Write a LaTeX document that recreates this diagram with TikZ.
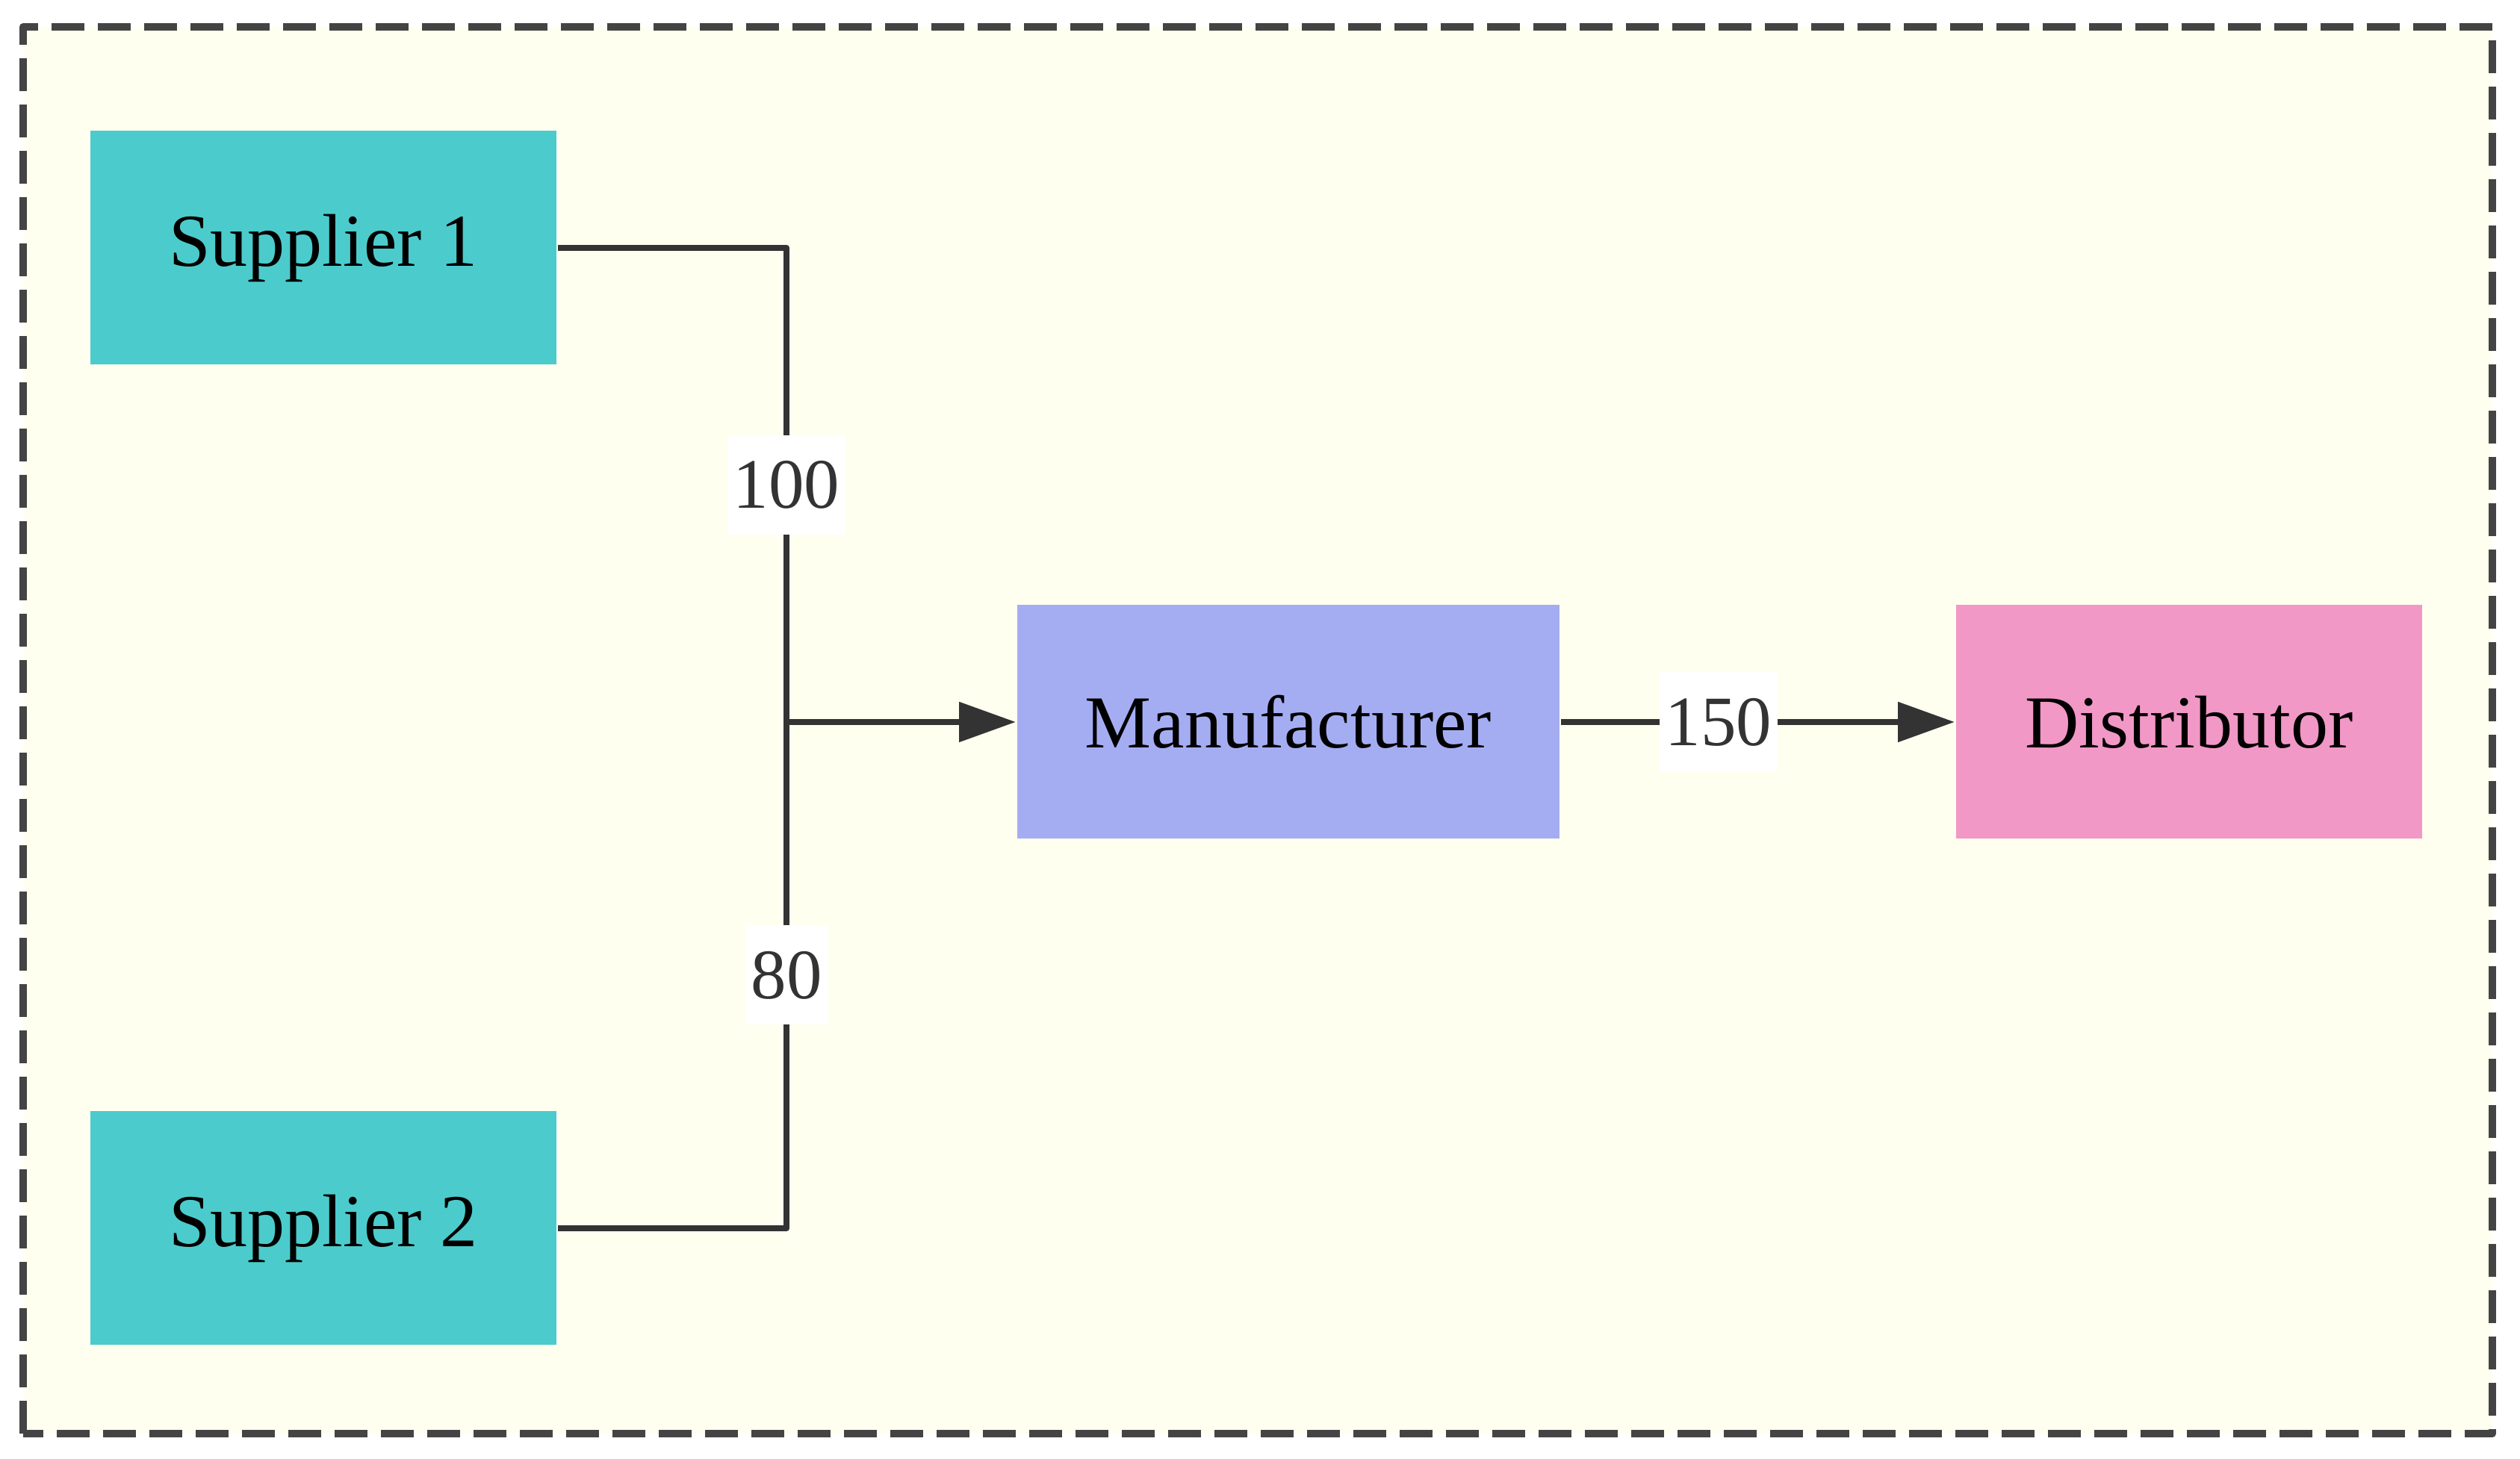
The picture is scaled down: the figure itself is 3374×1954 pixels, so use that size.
\documentclass[tikz,border=0pt]{standalone}
\usepackage{fontspec}
\setmainfont{Liberation Serif}
\usetikzlibrary{arrows.meta}

\begin{document}
\begin{tikzpicture}[x=0.1pt, y=0.1pt, font=\fontsize{10}{12}\selectfont, line join=round, >={Triangle[length=7.6pt, width=5.2pt]}]
	\definecolor{framecolor}{HTML}{444444}
	\definecolor{bgcolor}{HTML}{FFFFF0}
	\definecolor{linecolor}{HTML}{333333}
	\definecolor{suppcolor}{HTML}{4CCBCC}
	\definecolor{mancolor}{HTML}{A5ADF2}
	\definecolor{distcolor}{HTML}{F198C6}
	\tikzset{
		box/.style={rectangle, inner sep=0pt, minimum width=62.4pt, minimum height=31.3pt},
		edge/.style={linecolor, line width=0.85pt},
		lbl/.style={fill=white, inner xsep=0.8pt, inner ysep=0pt, minimum height=13.3pt, font=\fontsize{9.5}{11}\selectfont}
	}
	\useasboundingbox (0,0) rectangle (3374,1954);
	% frame
	\draw[framecolor, fill=bgcolor, line width=1pt, dash pattern=on 4.4pt off 1.8pt] (31,34) rectangle (3337,1918);
	% stages
	\node[box, fill=suppcolor] (s1) at (433,1622) {Supplier 1};
	\node[box, fill=suppcolor] (s2) at (433,309) {Supplier 2};
	\node[box, fill=mancolor, minimum width=72.6pt] (man) at (1725,987) {Manufacturer};
	\node[box, fill=distcolor] (dist) at (2931,987) {Distributor};
	\coordinate (J) at (1053,987);
	% flows
	\draw[edge] (s1.east) -| node[lbl, pos=0.75] {100} (J);
	\draw[edge] (s2.east) -| node[lbl, pos=0.75] {80} (J);
	\draw[edge, ->] (J) -- (man.west);
	\draw[edge, ->] (man.east) -- node[lbl, pos=0.4] {150} (dist.west);
\end{tikzpicture}
\end{document}
